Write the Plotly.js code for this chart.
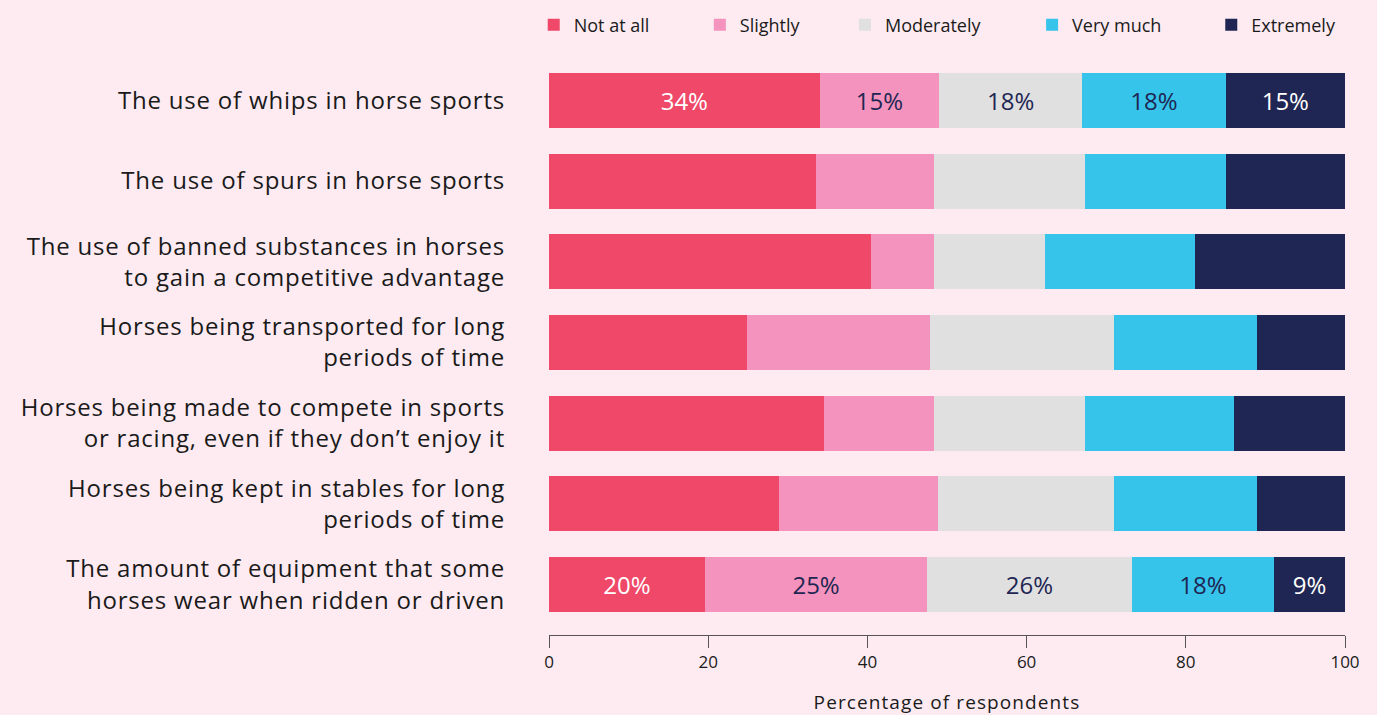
<!DOCTYPE html>
<html>
<head>
<meta charset="utf-8">
<script src="https://cdn.plot.ly/plotly-3.0.1.min.js"></script>
<style>
  html, body { margin: 0; padding: 0; background: #fdebf1; }
  #chart { width: 1377px; height: 715px; }
  #chart .yaxislayer-above .ytick text { letter-spacing: 0.8px; }
  #chart .g-xtitle text { letter-spacing: 1.1px; }
</style>
</head>
<body>
<div id="chart"></div>
<script>
// ---- Data ----
const categories = [
  "The use of whips in horse sports",
  "The use of spurs in horse sports",
  "The use of banned substances in horses<br>to gain a competitive advantage",
  "Horses being transported for long<br>periods of time",
  "Horses being made to compete in sports<br>or racing, even if they don\u2019t enjoy it",
  "Horses being kept in stables for long<br>periods of time",
  "The amount of equipment that some<br>horses wear when ridden or driven"
];
const seriesNames = ["Not at all", "Slightly", "Moderately", "Very much", "Extremely"];
const notAtAll   = [34, 33.6, 40.5, 24.9, 34.6, 28.9, 19.6];
const slightly   = [15, 14.8, 7.9, 23.0, 13.8, 20.0, 27.9];
const moderately = [18, 18.9, 13.9, 23.1, 18.9, 22.1, 25.7];
const veryMuch   = [18, 17.8, 18.8, 18.0, 18.8, 18.0, 17.9];
const extremely  = [15, 14.9, 18.9, 11.0, 13.9, 11.0, 8.9];
const notAtAllLabels   = ["34%", "", "", "", "", "", "20%"];
const slightlyLabels   = ["15%", "", "", "", "", "", "25%"];
const moderatelyLabels = ["18%", "", "", "", "", "", "26%"];
const veryMuchLabels   = ["18%", "", "", "", "", "", "18%"];
const extremelyLabels  = ["15%", "", "", "", "", "", "9%"];
const xTickVals = [0, 20, 40, 60, 80, 100];
const xAxisTitle = "Percentage of respondents";

// ---- Styles ----
const FONT = "'Open Sans', sans-serif";
const NAVY = "#1f2653";
const colors = ["#ef4868", "#f493bd", "#e0e0e0", "#36c4ea", NAVY];
const textColors = ["#ffffff", NAVY, NAVY, NAVY, "#ffffff"];
const values = [notAtAll, slightly, moderately, veryMuch, extremely];
const labels = [notAtAllLabels, slightlyLabels, moderatelyLabels, veryMuchLabels, extremelyLabels];
const legendIds = ["legend", "legend2", "legend3", "legend4", "legend5"];
const legendX = [-0.0192, 0.1895, 0.3718, 0.6069, 0.8320];

const traces = seriesNames.map((name, i) => ({
  type: "bar",
  orientation: "h",
  name: name,
  y: categories,
  x: values[i],
  text: labels[i],
  textposition: "inside",
  insidetextanchor: "middle",
  constraintext: "none",
  textfont: { family: FONT, size: 24, color: textColors[i] },
  marker: { color: colors[i], line: { width: 0 } },
  legend: legendIds[i],
  hoverinfo: "x+y+name"
}));

const layout = {
  width: 1377,
  height: 715,
  paper_bgcolor: "#fdebf1",
  plot_bgcolor: "#fdebf1",
  barmode: "stack",
  bargap: 0.318,
  margin: { l: 549.3, r: 32.3, t: 59.75, b: 80.3, pad: 0, autoexpand: false },
  font: { family: FONT, color: "#1a1a1a" },
  xaxis: {
    range: [0, 100],
    tickvals: xTickVals,
    showgrid: false,
    zeroline: false,
    showline: true,
    linecolor: "#555555",
    linewidth: 1,
    ticks: "outside",
    ticklen: 12,
    tickwidth: 1,
    tickcolor: "#555555",
    tickfont: { family: FONT, size: 17, color: "#1a1a1a" },
    automargin: false,
    title: { text: xAxisTitle, font: { family: FONT, size: 19, color: "#1a1a1a" }, standoff: 26 }
  },
  yaxis: {
    type: "category",
    range: [6.6245, -0.5],
    showgrid: false,
    zeroline: false,
    showline: false,
    ticks: "",
    ticklabelstandoff: 43,
    tickfont: { family: FONT, size: 24, color: "#1a1a1a" },
    automargin: false
  },
  showlegend: true
};
legendIds.forEach((id, i) => {
  layout[id] = {
    orientation: "h",
    x: legendX[i],
    xanchor: "left",
    yref: "container",
    y: 0.965,
    yanchor: "middle",
    bgcolor: "rgba(0,0,0,0)",
    borderwidth: 0,
    font: { family: FONT, size: 18, color: "#1a1a1a" }
  };
});

Plotly.newPlot("chart", traces, layout, { displayModeBar: false, responsive: false });
</script>
</body>
</html>
